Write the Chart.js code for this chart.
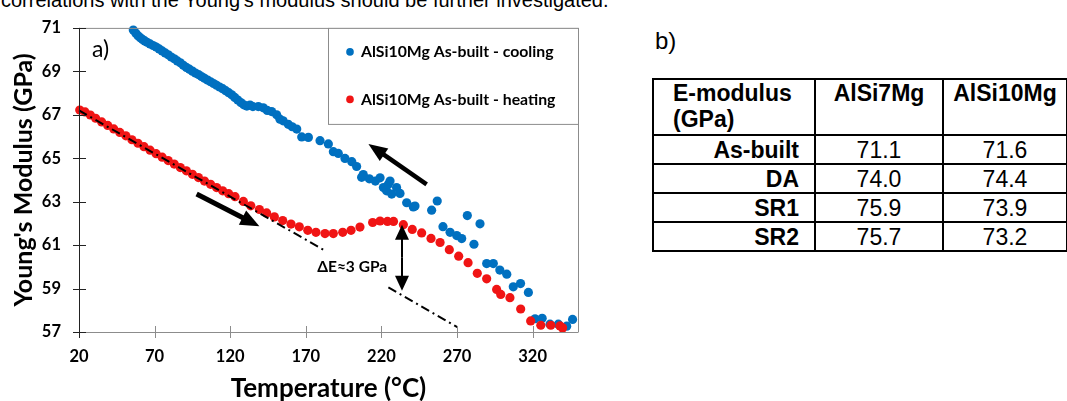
<!DOCTYPE html>
<html>
<head>
<meta charset="utf-8">
<script src="https://cdn.jsdelivr.net/npm/chart.js@4.4.1/dist/chart.umd.min.js"></script>
<style>
  html, body { margin: 0; padding: 0; background: #fff; }
  body { width: 1067px; height: 401px; overflow: hidden; position: relative; }
  #topText { position: absolute; left: 1px; top: -10px; font: 20px "Liberation Sans", Arial, sans-serif; line-height: 20px; color: #000; white-space: nowrap; }
  #chartBox { position: absolute; left: 0; top: 0; width: 640px; height: 401px; }
  #bLabel { position: absolute; left: 655px; top: 27px; font: 24px "Liberation Sans", Arial, sans-serif; color: #000; }
  #emod { position: absolute; left: 652px; top: 78px; width: 414px; table-layout: fixed; border-collapse: collapse; font-family: "Liberation Sans", Arial, sans-serif; font-size: 23px; color: #000; }
  #emod td { border: 2px solid #000; padding: 0; line-height: 26px; height: 27px; white-space: nowrap; }
  #emod td.hd { font-weight: bold; vertical-align: top; height: 54px; }
  #emod td.lbl { font-weight: bold; text-align: right; padding-right: 15px; }
  #emod td.val { text-align: center; }
</style>
</head>
<body>
<div id="topText">correlations with the Young's modulus should be further investigated.</div>
<div id="chartBox"><canvas id="chart" width="640" height="401"></canvas></div>
<div id="bLabel">b)</div>
<table id="emod"></table>
<script>
// heating curve (red), temperature in °C and E in GPa
const heatT = [20.5,24,27.5,31,35,39,43,47,51,55,59,63,67,71,75,79,83,87,91,95,99,103,107,111,115,119,123.2,128.7,133.6,139.3,144.1,149.2,154.7,160.2,165.7,171.3,176.7,182.7,188.2,194.4,199.9,205.8,214.2,219.1,224,228,234.5,240.4,246.6,252.8,258.8,264.9,271.1,277.3,283.4,289.6,296.2,298.9,305,312.1,318.7,325.4,332,338.1,339.8];
const heatE = [67.22,67.13,66.99,66.84,66.67,66.51,66.35,66.19,66.03,65.85,65.69,65.53,65.37,65.21,65.05,64.89,64.73,64.57,64.42,64.26,64.11,63.95,63.80,63.65,63.50,63.37,63.23,63.01,62.81,62.64,62.48,62.30,62.13,61.97,61.84,61.68,61.59,61.53,61.53,61.59,61.68,61.83,62.04,62.11,62.09,62.09,61.94,61.72,61.56,61.31,61.12,60.79,60.49,60.19,59.70,59.45,58.96,58.73,58.58,58.06,57.51,57.31,57.31,57.28,57.19];

// cooling curve (blue)
const coolT = [55.9,57.5,59,60.5,62,63.5,65,67,69,71,73,75,77,79,81,83,85,87,89,91,93,95,97,99,101,103,105,107,109,111,113,115,117,119,121,123,125,127,129,131,133.1,135,138.6,141.9,144.5,147.4,150.7,152.9,155,158.4,161,164,167.3,171.7,179.4,184.9,188.2,191.5,195.9,200.4,203.6,206.9,208,212,216,219.1,221.3,223.4,224.6,225.7,226.8,230,232.3,236.7,241.1,242.2,253.2,256.9,260.7,265.4,269.8,273.1,276.8,281.2,285.2,289.6,294,298.3,302.9,307.2,312,317.2,321.6,326.3,331.5,337,342.5,346.4];
const coolE = [70.90,70.76,70.64,70.55,70.47,70.40,70.34,70.26,70.19,70.12,70.03,69.94,69.85,69.76,69.66,69.58,69.48,69.39,69.28,69.18,69.10,69.01,68.92,68.85,68.76,68.68,68.60,68.52,68.44,68.36,68.28,68.20,68.11,68.02,67.92,67.80,67.68,67.56,67.46,67.40,67.45,67.38,67.38,67.32,67.20,67.15,67.00,66.80,66.72,66.56,66.45,66.34,65.98,65.96,65.81,65.66,65.30,65.22,64.99,64.84,64.62,64.12,64.25,64.05,63.95,64.10,63.65,63.50,63.80,63.95,63.35,63.65,63.38,62.95,62.76,62.80,62.61,63.03,61.85,61.59,61.44,61.30,62.36,61.04,61.98,60.15,60.15,59.85,59.66,59.08,59.23,58.82,57.61,57.63,57.36,57.36,57.27,57.58];

// linear extrapolation of the heating curve (gap where the label sits)
const extrapT = [20, 181.6, 203, 224.6, 270.2];
const extrapE = [67.2, 60.79, null, 59.05, 57.22];

const xTicks = [20, 70, 120, 170, 220, 270, 320];
const yTicks = [57, 59, 61, 63, 65, 67, 69, 71];

// annotations, in data units: [tailT, tailE, tipT, tipE]
const arrowCool = [249.9, 63.8, 211.4, 65.66];
const arrowHeat = [97.8, 63.35, 139.3, 61.87];
const deltaArrow = [233.6, 61.94, 58.9];   // T, top E, bottom E
const deltaLabel = { text: "ΔE≈3 GPa", t: 177.5, e: 59.97 };
const panelLabel = { text: "a)", t: 28.6, e: 70.0 };

// table b)
const tableHead = ["E-modulus\n(GPa)", "AlSi7Mg", "AlSi10Mg"];
const rowLabels = ["As-built", "DA", "SR1", "SR2"];
const alsi7 = [71.1, 74.0, 75.9, 75.7];
const alsi10 = [71.6, 74.4, 73.9, 73.2];

const BLUE = "#0070c0";
const RED = "#f01414";
const FONT = "Lato, 'Open Sans', sans-serif";

function buildTable(){
  const t = document.getElementById("emod");
  const widths = [162, 128, 124];
  let html = "<colgroup>" + widths.map(w => `<col style="width:${w}px">`).join("") + "</colgroup><tr>";
  tableHead.forEach((h, i) => {
    const style = i === 0 ? "text-align:left;padding-left:19px;" : "text-align:center;";
    html += `<td class="hd" style="${style}">${h.replace("\n", "<br>")}</td>`;
  });
  html += "</tr>";
  rowLabels.forEach((r, i) => {
    html += `<tr><td class="lbl">${r}</td><td class="val">${alsi7[i].toFixed(1)}</td><td class="val">${alsi10[i].toFixed(1)}</td></tr>`;
  });
  t.innerHTML = html;
}

function drawArrow(ctx, x1, y1, x2, y2, lw, headLen, headW){
  const a = Math.atan2(y2 - y1, x2 - x1);
  const bx = x2 - Math.cos(a) * headLen, by = y2 - Math.sin(a) * headLen;
  ctx.beginPath();
  ctx.lineWidth = lw;
  ctx.lineCap = "butt";
  ctx.moveTo(x1, y1);
  ctx.lineTo(bx + Math.cos(a) * 2, by + Math.sin(a) * 2);
  ctx.stroke();
  ctx.beginPath();
  ctx.moveTo(x2, y2);
  ctx.lineTo(bx + Math.sin(a) * headW / 2, by - Math.cos(a) * headW / 2);
  ctx.lineTo(bx - Math.sin(a) * headW / 2, by + Math.cos(a) * headW / 2);
  ctx.closePath();
  ctx.fill();
}

const decor = {
  id: "decor",
  afterDraw(chart){
    const { ctx, chartArea: ca, scales: { x, y } } = chart;
    ctx.save();

    // frame + axes
    ctx.lineWidth = 1;
    ctx.strokeStyle = "#8c8c8c";
    ctx.beginPath();
    ctx.moveTo(ca.left, ca.top + 0.5); ctx.lineTo(ca.right + 0.5, ca.top + 0.5);
    ctx.lineTo(ca.right + 0.5, ca.bottom);
    ctx.stroke();
    ctx.beginPath();
    ctx.moveTo(ca.left - 6, ca.bottom + 0.5); ctx.lineTo(ca.right + 0.5, ca.bottom + 0.5);
    ctx.stroke();
    xTicks.forEach(v => {
      const px = Math.round(x.getPixelForValue(v)) + 0.5;
      ctx.beginPath(); ctx.moveTo(px, ca.bottom - 6); ctx.lineTo(px, ca.bottom + 6); ctx.stroke();
    });
    ctx.strokeStyle = "#222";
    ctx.beginPath();
    ctx.moveTo(ca.left + 0.5, ca.top); ctx.lineTo(ca.left + 0.5, ca.bottom + 6);
    ctx.stroke();
    yTicks.forEach(v => {
      const py = Math.round(y.getPixelForValue(v)) + 0.5;
      ctx.beginPath(); ctx.moveTo(ca.left - 6, py); ctx.lineTo(ca.left + 7, py); ctx.stroke();
    });

    // legend box
    const lx = ca.right - 250, ly = ca.top, lw = 250, lh = 96;
    ctx.fillStyle = "#fff";
    ctx.fillRect(lx, ly, lw, lh);
    ctx.strokeStyle = "#8c8c8c";
    ctx.strokeRect(lx + 0.5, ly + 0.5, lw, lh);
    const entries = [chart.data.datasets[2], chart.data.datasets[1]];
    ctx.font = "bold 15.8px " + FONT;
    ctx.textBaseline = "middle";
    ctx.textAlign = "left";
    entries.forEach((ds, i) => {
      const ey = ly + 24 + i * 47.5;
      ctx.fillStyle = ds.backgroundColor;
      ctx.beginPath(); ctx.arc(lx + 22, ey, 3.8, 0, Math.PI * 2); ctx.fill();
      ctx.fillStyle = "#000";
      ctx.fillText(ds.label, lx + 33, ey);
    });

    // arrows
    ctx.fillStyle = "#000";
    ctx.strokeStyle = "#000";
    drawArrow(ctx, x.getPixelForValue(arrowCool[0]), y.getPixelForValue(arrowCool[1]),
      x.getPixelForValue(arrowCool[2]), y.getPixelForValue(arrowCool[3]), 4.5, 19, 15);
    drawArrow(ctx, x.getPixelForValue(arrowHeat[0]), y.getPixelForValue(arrowHeat[1]),
      x.getPixelForValue(arrowHeat[2]), y.getPixelForValue(arrowHeat[3]), 5, 19, 16);
    const dx = x.getPixelForValue(deltaArrow[0]);
    const dTop = y.getPixelForValue(deltaArrow[1]), dBot = y.getPixelForValue(deltaArrow[2]);
    const mid = (dTop + dBot) / 2;
    drawArrow(ctx, dx, mid, dx, dTop, 2, 15, 14);
    drawArrow(ctx, dx, mid, dx, dBot, 2, 15, 14);

    // labels
    ctx.font = "bold 15.5px " + FONT;
    ctx.textBaseline = "middle";
    ctx.fillText(deltaLabel.text, x.getPixelForValue(deltaLabel.t), y.getPixelForValue(deltaLabel.e));
    ctx.font = "23px " + FONT;
    ctx.fillText(panelLabel.text, x.getPixelForValue(panelLabel.t), y.getPixelForValue(panelLabel.e));
    ctx.restore();
  }
};

function buildChart(){
  const ctx = document.getElementById("chart").getContext("2d");
  const toXY = (ts, es) => ts.map((t, i) => ({ x: t, y: es[i] }));
  const tickFont = { family: FONT, weight: "bold", size: 16.5 };
  return new Chart(ctx, {
    type: "scatter",
    data: {
      datasets: [
        { label: "extrapolation", type: "line", data: toXY(extrapT, extrapE), borderColor: "#000",
          borderWidth: 2, borderDash: [9, 4, 2, 4], pointRadius: 0, spanGaps: false, fill: false, clip: false },
        { label: "AlSi10Mg As-built - heating", data: toXY(heatT, heatE), backgroundColor: RED,
          borderColor: RED, pointRadius: 4.6, pointBorderWidth: 0, clip: false },
        { label: "AlSi10Mg As-built - cooling", data: toXY(coolT, coolE), backgroundColor: BLUE,
          borderColor: BLUE, pointRadius: 4.6, pointBorderWidth: 0, clip: false }
      ]
    },
    options: {
      responsive: false,
      animation: false,
      events: [],
      layout: { padding: { top: 19, right: 62, left: 0, bottom: 0 } },
      plugins: { legend: { display: false }, tooltip: { enabled: false } },
      scales: {
        x: {
          type: "linear", min: 20, max: 350,
          afterBuildTicks: s => { s.ticks = xTicks.map(v => ({ value: v })); },
          afterFit: s => { s.height = 69; },
          grid: { display: false, drawTicks: false },
          border: { display: false },
          ticks: { color: "#000", font: tickFont, padding: 15, maxRotation: 0 },
          title: { display: true, text: "Temperature (°C)", color: "#000",
            font: { family: FONT, weight: "bold", size: 26 }, padding: { top: 0, bottom: -3 } }
        },
        y: {
          type: "linear", min: 57, max: 71,
          afterBuildTicks: s => { s.ticks = yTicks.map(v => ({ value: v })); },
          afterFit: s => { s.width = 79; },
          grid: { display: false, drawTicks: false },
          border: { display: false },
          ticks: { color: "#000", font: tickFont, padding: 18 },
          title: { display: true, text: "Young's Modulus (GPa)", color: "#000",
            font: { family: FONT, weight: "bold", size: 25 }, padding: { top: 9, bottom: 0 } }
        }
      }
    },
    plugins: [decor]
  });
}

buildTable();
Promise.all([
  document.fonts.load("bold 16px Lato"),
  document.fonts.load("16px Lato")
]).catch(() => {}).then(buildChart);
</script>
</body>
</html>
